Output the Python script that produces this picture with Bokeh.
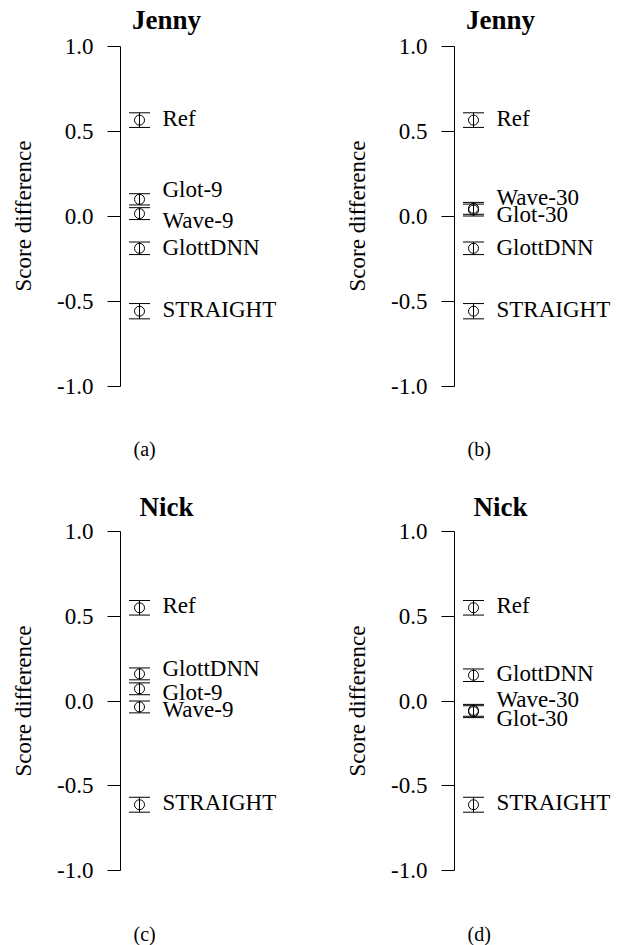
import math
from bokeh.plotting import figure
from bokeh.models import (Range1d, FixedTicker, PrintfTickFormatter, Whisker, TeeHead,
                          ColumnDataSource, Label, Title)
from bokeh.layouts import gridplot
from bokeh.core.properties import value
from bokeh.embed import file_html
from bokeh.resources import INLINE

# ---------------- data ----------------
titles = ["Jenny", "Jenny", "Nick", "Nick"]
captions = ["(a)", "(b)", "(c)", "(d)"]

names_a = ["Ref", "Glot-9", "Wave-9", "GlottDNN", "STRAIGHT"]
mean_a = [0.564, 0.098, 0.014, -0.190, -0.560]
err_a = [0.043, 0.033, 0.035, 0.037, 0.045]
laby_a = [0.572, 0.157, -0.025, -0.184, -0.550]

names_b = ["Ref", "Wave-30", "Glot-30", "GlottDNN", "STRAIGHT"]
mean_b = [0.564, 0.045, 0.035, -0.190, -0.560]
err_b = [0.043, 0.035, 0.035, 0.037, 0.045]
laby_b = [0.572, 0.110, 0.007, -0.184, -0.550]

names_c = ["Ref", "GlottDNN", "Glot-9", "Wave-9", "STRAIGHT"]
mean_c = [0.550, 0.160, 0.072, -0.035, -0.612]
err_c = [0.043, 0.035, 0.035, 0.035, 0.044]
laby_c = [0.563, 0.189, 0.050, -0.052, -0.598]

names_d = ["Ref", "GlottDNN", "Wave-30", "Glot-30", "STRAIGHT"]
mean_d = [0.550, 0.152, -0.055, -0.063, -0.612]
err_d = [0.043, 0.037, 0.035, 0.035, 0.044]
laby_d = [0.563, 0.162, 0.007, -0.101, -0.598]

y_ticks = [-1.0, -0.5, 0.0, 0.5, 1.0]
y_label = "Score difference"

FONT = "Liberation Serif"

# ---------------- layout (pixels) ----------------
H1, H2 = 472, 473
W1, W2 = 311, 312


def make_panel(names, means, errs, laby, title, caption, w, h, left, fig_top, mb_top,
               mb_bottom, s, title_base_abs, cap_standoff):
    frame_h = h - mb_top - mb_bottom
    zero_px = fig_top + mb_top + frame_h / 2.0
    R = frame_h / 2.0 / s

    def px2v(px):
        return (zero_px - px) / s

    fw = w - left
    p = figure(width=w, height=h, x_range=Range1d(0, fw), y_range=Range1d(-R, R),
               x_axis_type=None, toolbar_location=None, output_backend="svg",
               min_border_left=left, min_border_right=0, min_border_top=mb_top,
               min_border_bottom=mb_bottom)
    p.outline_line_color = None
    p.grid.visible = False
    p.background_fill_color = "white"
    p.border_fill_color = "white"

    ax = p.yaxis[0]
    ax.ticker = FixedTicker(ticks=y_ticks)
    ax.formatter = PrintfTickFormatter(format="%.1f")
    ax.bounds = (-1, 1)
    ax.axis_line_color = "black"
    ax.axis_line_width = 1
    ax.major_tick_line_color = "black"
    ax.major_tick_out = 13
    ax.major_tick_in = 0
    ax.minor_tick_line_color = None
    ax.major_label_text_font = FONT
    ax.major_label_text_font_size = "23px"
    ax.major_label_text_color = "black"
    ax.major_label_standoff = 14
    ax.axis_label = y_label
    ax.axis_label_text_font = FONT
    ax.axis_label_text_font_size = "23px"
    ax.axis_label_text_font_style = "normal"
    ax.axis_label_text_color = "black"
    ax.axis_label_standoff = 18

    xpt = 19
    src = ColumnDataSource(dict(
        x=[xpt] * len(names), y=means,
        lo=[m - e for m, e in zip(means, errs)],
        hi=[m + e for m, e in zip(means, errs)],
        lx=[42] * len(names), ly=laby, name=names))

    wk = Whisker(source=src, base="x", upper="hi", lower="lo", dimension="height",
                 line_color="black", line_width=1,
                 upper_head=TeeHead(size=21, line_color="black", line_width=1),
                 lower_head=TeeHead(size=21, line_color="black", line_width=1))
    p.add_layout(wk)
    p.scatter(x="x", y="y", source=src, marker="circle", size=10,
              fill_color=None, line_color="black", line_width=1)
    p.text(x="lx", y="ly", text="name", source=src, text_font=value(FONT),
           text_font_size="23px", text_baseline="alphabetic", text_align="left",
           y_offset=0, text_color="black")

    p.add_layout(Label(x=46, y=px2v(title_base_abs), text=title, text_font=FONT,
                       text_font_size="27px", text_font_style="bold",
                       text_align="center", text_baseline="alphabetic",
                       text_color="black"))
    p.add_layout(Title(text=caption, align="left", offset=13, standoff=cap_standoff,
                       text_font=FONT, text_font_size="20px", text_font_style="normal",
                       text_color="black"), "below")
    return p


pa = make_panel(names_a, mean_a, err_a, laby_a, titles[0], captions[0], W1, H1, 120, 0,
                0, 41, 170.0, 19.5, 8)
pb = make_panel(names_b, mean_b, err_b, laby_b, titles[1], captions[1], W2, H1, 143, 0,
                0, 41, 170.0, 19.5, 8)
pc = make_panel(names_c, mean_c, err_c, laby_c, titles[2], captions[2], W1, H2, 120, H1,
                9, 25, 169.5, 506.5, 1)
pd = make_panel(names_d, mean_d, err_d, laby_d, titles[3], captions[3], W2, H2, 143, H1,
                9, 25, 169.5, 506.5, 1)

grid = gridplot([[pa, pb], [pc, pd]], toolbar_location=None)

open("out.html", "w").write(file_html(grid, INLINE))
